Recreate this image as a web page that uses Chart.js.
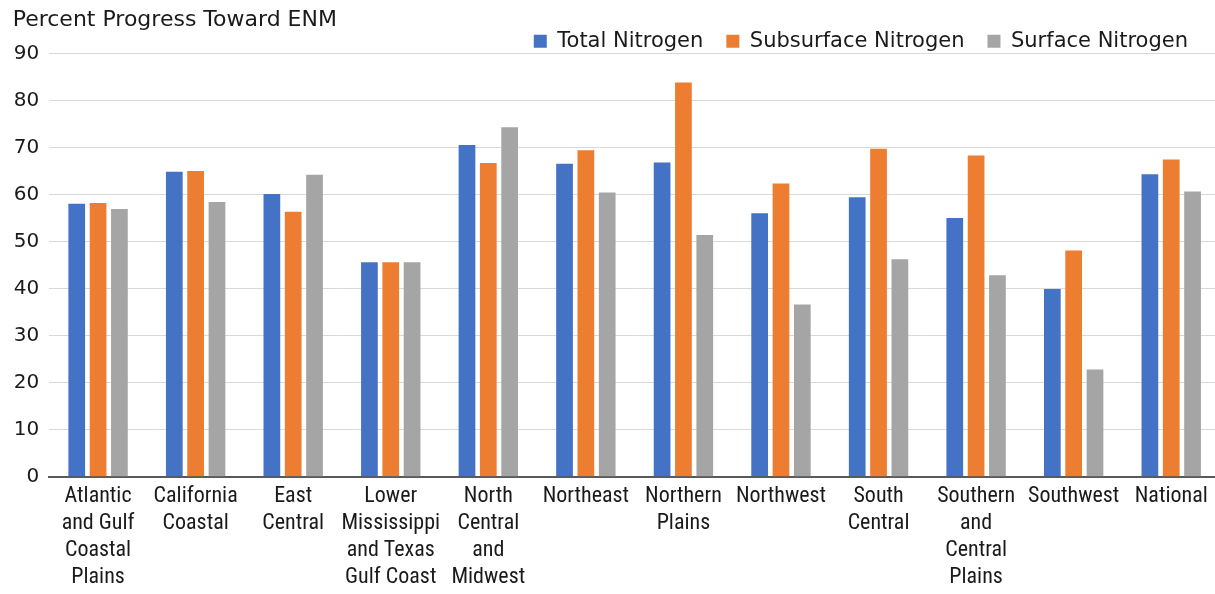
<!DOCTYPE html>
<html>
<head>
<meta charset="utf-8">
<script src="https://cdn.jsdelivr.net/npm/chart.js@4.4.1/dist/chart.umd.min.js"></script>
<style>
  html, body { margin: 0; padding: 0; background: #fff; overflow: hidden; }
  #wrap { width: 1220px; height: 594px; }
</style>
</head>
<body>
<div id="wrap"><canvas id="c" width="1220" height="594"></canvas></div>
<script>
// ---- Data ----
const categories = [
  ['Atlantic', 'and Gulf', 'Coastal', 'Plains'],
  ['California', 'Coastal'],
  ['East', 'Central'],
  ['Lower', 'Mississippi', 'and Texas', 'Gulf Coast'],
  ['North', 'Central', 'and', 'Midwest'],
  ['Northeast'],
  ['Northern', 'Plains'],
  ['Northwest'],
  ['South', 'Central'],
  ['Southern', 'and', 'Central', 'Plains'],
  ['Southwest'],
  ['National']
];
const seriesNames = ['Total Nitrogen', 'Subsurface Nitrogen', 'Surface Nitrogen'];
const totalNitrogen      = [58.0, 64.8, 60.1, 45.6, 70.5, 66.5, 66.8, 56.0, 59.4, 55.0, 39.9, 64.3];
const subsurfaceNitrogen = [58.2, 65.0, 56.3, 45.6, 66.7, 69.4, 83.8, 62.3, 69.7, 68.3, 48.1, 67.4];
const surfaceNitrogen    = [56.9, 58.4, 64.2, 45.6, 74.3, 60.4, 51.4, 36.6, 46.2, 42.8, 22.8, 60.6];
const yMin = 0, yMax = 90, yStep = 10;
const chartTitle = 'Percent Progress Toward ENM';

// ---- Styles ----
const colors = ['#4472C4', '#ED7D31', '#A5A5A5'];
const textColor = '#1a1a1a';
const wideFont = "'DejaVu Sans', 'Liberation Sans', Arial, sans-serif";
const narrowFont = "'Roboto Condensed', 'DejaVu Sans Condensed', sans-serif";

const legendNudge = {
  id: 'legendNudge',
  afterLayout(chart) {
    const l = chart.legend;
    if (!l) return;
    const dx = -9, dy = 8.5;
    l.left += dx; l.right += dx; l.top += dy; l.bottom += dy;
  }
};

const seriesData = [totalNitrogen, subsurfaceNitrogen, surfaceNitrogen];

new Chart(document.getElementById('c'), {
  type: 'bar',
  data: {
    labels: categories,
    datasets: seriesNames.map((name, i) => ({
      label: name,
      data: seriesData[i],
      backgroundColor: colors[i],
      borderWidth: 0,
      categoryPercentage: 0.656,
      barPercentage: 0.784
    }))
  },
  plugins: [legendNudge],
  options: {
    responsive: false,
    devicePixelRatio: 1,
    animation: false,
    layout: { padding: { left: 12.7, right: 0, top: -0.7, bottom: 0 } },
    plugins: {
      tooltip: { enabled: false },
      title: {
        display: true,
        text: chartTitle,
        align: 'start',
        color: textColor,
        font: { family: wideFont, size: 22, weight: 'normal', lineHeight: 1.2 },
        padding: { top: 7.8, bottom: -34.2 }
      },
      legend: {
        display: true,
        position: 'top',
        align: 'end',
        labels: {
          color: textColor,
          font: { family: wideFont, size: 21 },
          boxWidth: 13,
          boxHeight: 13,
          padding: 23
        }
      }
    },
    scales: {
      x: {
        grid: { display: false, drawTicks: false },
        border: { display: true, color: '#595959', width: 2 },
        afterFit(scale) {
          scale.paddingLeft = 0;
          scale.paddingRight = 0;
          scale.height = 117.3;
        },
        ticks: {
          color: textColor,
          autoSkip: false,
          maxRotation: 0,
          minRotation: 0,
          padding: 6,
          font: { family: narrowFont, size: 22, lineHeight: 1.227 }
        }
      },
      y: {
        min: yMin,
        max: yMax,
        grid: { color: '#d9d9d9', lineWidth: 1, drawTicks: false },
        border: { display: false },
        afterFit(scale) {
          scale.width = 36.6;
        },
        ticks: {
          stepSize: yStep,
          color: textColor,
          padding: 10,
          font: { family: wideFont, size: 20 }
        }
      }
    }
  }
});
</script>
</body>
</html>
